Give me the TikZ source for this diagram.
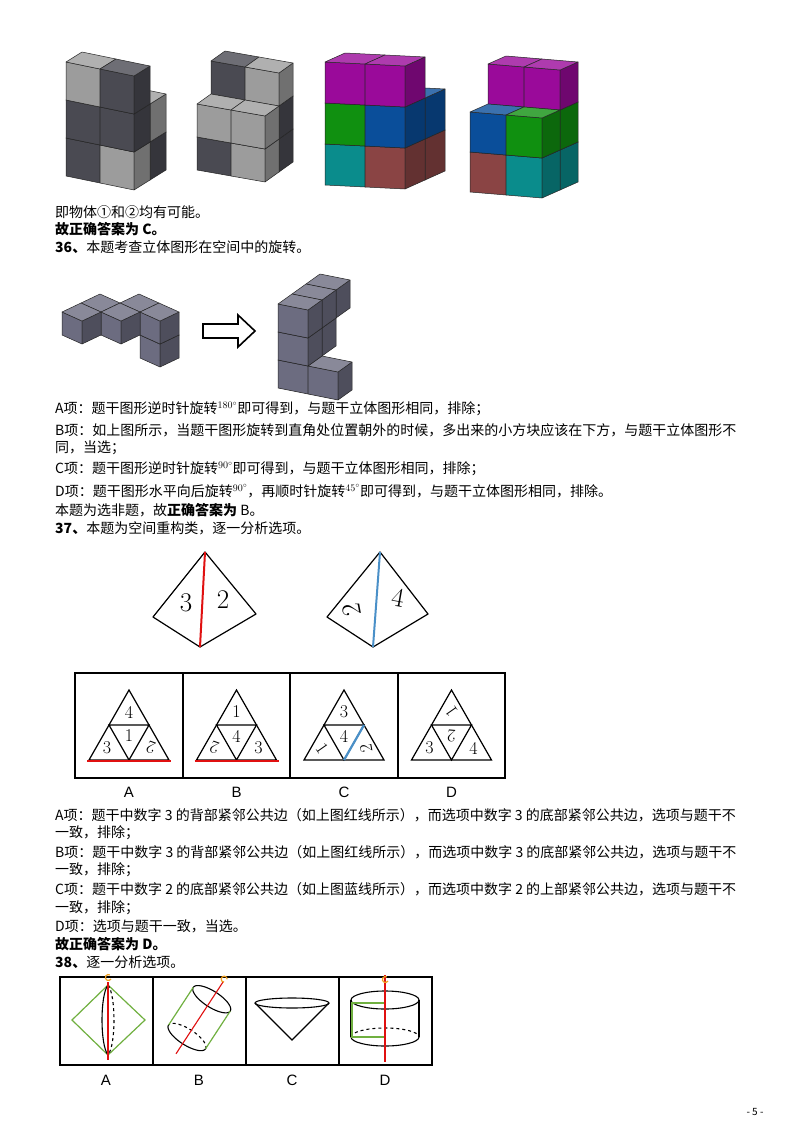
\documentclass[tikz,border=0pt]{standalone}
\usepackage{fontspec}
\newfontfamily\cjk{Noto Sans CJK SC}
\newfontfamily\sansl{Liberation Sans}
\newcommand\mycube[4]{%
\filldraw[fill=#4,cubeedge] (#1,#2,#3)--({#1+1},#2,#3)--({#1+1},#2,{#3+1})--(#1,#2,{#3+1})--cycle;
\filldraw[fill=#4!72!black,cubeedge] ({#1+1},#2,#3)--({#1+1},{#2+1},#3)--({#1+1},{#2+1},{#3+1})--({#1+1},#2,{#3+1})--cycle;
\filldraw[fill=#4!80!white,cubeedge] (#1,#2,{#3+1})--({#1+1},#2,{#3+1})--({#1+1},{#2+1},{#3+1})--(#1,{#2+1},{#3+1})--cycle;}
\newcommand\sdeg[1]{\raisebox{5pt}{\normalfont\fontsize{10}{10}\selectfont #1$^\circ$}}
\newcommand\opttri[1]{%
\draw[line width=1.2pt] (#1,690)--(#1-40,760)--(#1+40,760)--cycle;
\draw[line width=1.2pt] (#1-20,725)--(#1+20,725)--(#1,760)--cycle;}
\definecolor{dkg}{HTML}{4A4A52}
\definecolor{ltg}{HTML}{9C9C9C}
\definecolor{lgr}{HTML}{6C6C80}
\definecolor{mag}{HTML}{9A0A9A}
\definecolor{grn}{HTML}{109010}
\definecolor{blu}{HTML}{0A4E9A}
\definecolor{tea}{HTML}{0A8C8C}
\definecolor{brn}{HTML}{8A4444}
\definecolor{redl}{HTML}{E01010}
\definecolor{blul}{HTML}{4A90C8}
\definecolor{grl}{HTML}{70B040}
\definecolor{orl}{HTML}{F0A020}
\begin{document}
\begin{tikzpicture}[x=1pt,y=-1pt,
 cubeedge/.style={draw=black!85,line width=0.5pt,line join=round},
 txt/.style={anchor=west,inner sep=0pt,font=\cjk\fontsize{14}{16}\selectfont},
 num/.style={inner sep=0pt,font=\fontsize{18}{18}\selectfont},
 big/.style={inner sep=0pt,font=\fontsize{27}{27}\selectfont},
 lab/.style={inner sep=0pt,font=\sansl\fontsize{15}{15}\selectfont},
 frame/.style={line width=1.3pt}]
\useasboundingbox (0,0) rectangle (800,1132);
\fill[white] (0,0) rectangle (800,1132);
% group 1
\begin{scope}[shift={(66,176)},x={(34pt,-7pt)},y={(16pt,10pt)},z={(0pt,38pt)}]
\mycube{1}{1}{0}{dkg}\mycube{1}{1}{1}{ltg}
\mycube{0}{0}{0}{dkg}\mycube{1}{0}{0}{ltg}
\mycube{0}{0}{1}{dkg}\mycube{1}{0}{1}{dkg}
\mycube{0}{0}{2}{ltg}\mycube{1}{0}{2}{dkg}
\end{scope}
% group 2
\begin{scope}[shift={(197,170)},x={(34pt,-6pt)},y={(14pt,10pt)},z={(0pt,33pt)}]
\mycube{0}{1}{0}{dkg}\mycube{1}{1}{0}{dkg}
\mycube{0}{1}{1}{dkg}\mycube{1}{1}{1}{dkg}
\mycube{0}{1}{2}{dkg}\mycube{1}{1}{2}{ltg}
\mycube{0}{0}{0}{dkg}\mycube{1}{0}{0}{ltg}
\mycube{0}{0}{1}{ltg}\mycube{1}{0}{1}{ltg}
\end{scope}
% group 3
\begin{scope}[shift={(325,185)},x={(40pt,-2pt)},y={(20pt,9pt)},z={(0pt,41pt)}]
\mycube{1}{1}{0}{brn}\mycube{1}{1}{1}{blu}
\mycube{0}{0}{0}{tea}\mycube{1}{0}{0}{brn}
\mycube{0}{0}{1}{grn}\mycube{1}{0}{1}{blu}
\mycube{0}{0}{2}{mag}\mycube{1}{0}{2}{mag}
\end{scope}
% group 4
\begin{scope}[shift={(470,192)},x={(36pt,-3pt)},y={(18pt,8pt)},z={(0pt,40pt)}]
\mycube{0}{1}{0}{brn}\mycube{1}{1}{0}{tea}
\mycube{0}{1}{1}{blu}\mycube{1}{1}{1}{grn}
\mycube{0}{1}{2}{mag}\mycube{1}{1}{2}{mag}
\mycube{0}{0}{0}{brn}\mycube{1}{0}{0}{tea}
\mycube{0}{0}{1}{blu}\mycube{1}{0}{1}{grn}
\end{scope}
\node[txt] (t1) at (55,212) {即物体①和②均有可能。};
\node[txt] (t2) at (55,229) {\bfseries 故正确答案为 C。};
\node[txt] (t3) at (55,247) {\bfseries 36、\mdseries 本题考查立体图形在空间中的旋转。};
% L shape
\begin{scope}[shift={(62,358)},x={(20pt,-9pt)},y={(19pt,9pt)},z={(0pt,23pt)}]
\mycube{1}{2}{1}{lgr}\mycube{2}{2}{0}{lgr}\mycube{2}{2}{1}{lgr}
\mycube{0}{1}{1}{lgr}\mycube{1}{1}{1}{lgr}
\mycube{0}{0}{1}{lgr}
\end{scope}
\draw[line width=1.6pt,line join=miter] (203,324)--(238,324)--(238,315)--(255,331)--(238,347)--(238,338)--(203,338)--cycle;
% tower
\begin{scope}[shift={(278,388)},x={(30pt,-6pt)},y={(14pt,10pt)},z={(0pt,28pt)}]
\mycube{0}{2}{2}{lgr}
\mycube{0}{1}{1}{lgr}\mycube{0}{1}{2}{lgr}
\mycube{0}{0}{0}{lgr}\mycube{1}{0}{0}{lgr}\mycube{0}{0}{1}{lgr}\mycube{0}{0}{2}{lgr}
\end{scope}
\node[txt] (t4) at (55,409) {A项：题干图形逆时针旋转\sdeg{180}即可得到，与题干立体图形相同，排除；};
\node[txt] (t5) at (55,430) {B项：如上图所示，当题干图形旋转到直角处位置朝外的时候，多出来的小方块应该在下方，与题干立体图形不};
\node[txt] (t6) at (55,448) {同，当选；};
\node[txt] (t7) at (55,469) {C项：题干图形逆时针旋转\sdeg{90}即可得到，与题干立体图形相同，排除；};
\node[txt] (t8) at (55,491) {D项：题干图形水平向后旋转\sdeg{90}，再顺时针旋转\sdeg{45}即可得到，与题干立体图形相同，排除。};
\node[txt] (t9) at (55,510) {本题为选非题，故{\bfseries 正确答案为} B。};
\node[txt] (t10) at (55,528) {\bfseries 37、\mdseries 本题为空间重构类，逐一分析选项。};
% pyramids
\draw[line width=1.2pt,line join=round] (205,552)--(153,617)--(200,647)--(256,614)--cycle;
\draw[redl,line width=2pt] (205,552)--(200,647);
\node[big] (p1) at (186,603) {3};
\node[big] (p2) at (223,600) {2};
\draw[line width=1.2pt,line join=round] (380,552)--(327,617)--(373,647)--(428,614)--cycle;
\draw[blul,line width=2pt] (380,552)--(373,647);
\node[big,rotate=100] (p3) at (352,610) {2};
\node[big,rotate=-10] (p4) at (398,598) {4};
% options 37
\draw[frame] (75,673) rectangle (505,778);
\draw[frame] (183,673)--(183,778) (290,673)--(290,778) (398,673)--(398,778);
\opttri{129}\opttri{236.5}\opttri{344}\opttri{451.5}
\draw[redl,line width=2.5pt] (87,761)--(171,761);
\draw[redl,line width=2.5pt] (194.5,761)--(278.5,761);
\draw[blul,line width=2.2pt] (344,760)--(364,725);
\node[num] (a1) at (129,712) {4};\node[num] (a2) at (107,748) {3};\node[num] (a3) at (129,736) {1};\node[num,rotate=160] (a4) at (151,748) {2};
\node[num] (b1) at (236.5,712) {1};\node[num,rotate=160] (b2) at (214.5,748) {2};\node[num] (b3) at (236.5,736) {4};\node[num] (b4) at (258.5,748) {3};
\node[num] (c1) at (344,712) {3};\node[num,rotate=-55] (c2) at (322,748) {1};\node[num] (c3) at (344,736) {4};\node[num,rotate=100] (c4) at (366,748) {2};
\node[num,rotate=125] (d1) at (451.5,712) {1};\node[num] (d2) at (429.5,748) {3};\node[num,rotate=175] (d3) at (451.5,736) {2};\node[num] (d4) at (473.5,748) {4};
\node[lab] (la) at (129,792) {A};\node[lab] (lb) at (236.5,792) {B};\node[lab] (lc) at (344,792) {C};\node[lab] (ld) at (451.5,792) {D};
\node[txt] (u1) at (55,815) {A项：题干中数字 3 的背部紧邻公共边（如上图红线所示），而选项中数字 3 的底部紧邻公共边，选项与题干不};
\node[txt] (u2) at (55,833) {一致，排除；};
\node[txt] (u3) at (55,852) {B项：题干中数字 3 的背部紧邻公共边（如上图红线所示），而选项中数字 3 的底部紧邻公共边，选项与题干不};
\node[txt] (u4) at (55,870) {一致，排除；};
\node[txt] (u5) at (55,889) {C项：题干中数字 2 的底部紧邻公共边（如上图蓝线所示），而选项中数字 2 的上部紧邻公共边，选项与题干不};
\node[txt] (u6) at (55,908) {一致，排除；};
\node[txt] (u7) at (55,926) {D项：选项与题干一致，当选。};
\node[txt] (u8) at (55,944) {\bfseries 故正确答案为 D。};
\node[txt] (u9) at (55,962) {\bfseries 38、\mdseries 逐一分析选项。};
% options 38
\draw[frame] (60,977) rectangle (432,1065);
\draw[frame] (153,977)--(153,1065) (246,977)--(246,1065) (339,977)--(339,1065);
% A
\draw[grl,line width=1.2pt] (108,985)--(72,1020)--(108,1055)--(145,1020)--cycle;
\draw[line width=1.1pt,dashed] (108,985) .. controls (116,995) and (116,1045) .. (108,1055);
\draw[line width=1.1pt] (108,985) .. controls (100,995) and (100,1045) .. (108,1055);
\draw[redl,line width=1.1pt] (108,982)--(108,1060);
\draw[orl,line width=1.2pt] (111,979) arc[start angle=30,end angle=300,radius=3];
% B
\begin{scope}[shift={(187,1037)},x={(0.84pt,-0.54pt)},y={(0.55pt,0.84pt)}]
\draw[line width=1.1pt] plot[domain=0:360,samples=60] ({22*cos(\x)},{45+8*sin(\x)});
\draw[line width=1.1pt] plot[domain=180:360,samples=40] ({22*cos(\x)},{8*sin(\x)});
\draw[line width=1.1pt,dashed] plot[domain=0:180,samples=40] ({22*cos(\x)},{8*sin(\x)});
\draw[grl,line width=1.2pt] (-22,0)--(-22,45) (22,0)--(22,45);
\draw[redl,line width=1.1pt] (0,-20)--(0,66);
\draw[orl,line width=1.2pt] (2,70) arc[start angle=30,end angle=300,radius=3];
\end{scope}
% C
\draw[line width=1.1pt] (292,1003) ellipse[x radius=37,y radius=5];
\draw[line width=1.1pt] (255,1003)--(292,1040)--(329,1003);
% D
\draw[line width=1.1pt] (385,1000) ellipse[x radius=34,y radius=9];
\draw[line width=1.1pt] (351,1037) arc[start angle=180,end angle=360,x radius=34,y radius=-9];
\draw[line width=1.1pt,dashed] (351,1037) arc[start angle=180,end angle=0,x radius=34,y radius=-9];
\draw[line width=1.1pt] (351,1000)--(351,1037) (419,1000)--(419,1037);
\draw[grl,line width=1.2pt] (385,1003)--(352,1003)--(352,1037)--(385,1037);
\draw[redl,line width=1.1pt] (385,975)--(385,1062);
\draw[orl,line width=1.2pt] (388,981) arc[start angle=30,end angle=300,radius=3];
\node[lab] (ma) at (106,1080) {A};\node[lab] (mb) at (199,1080) {B};\node[lab] (mc) at (292,1080) {C};\node[lab] (md) at (385,1080) {D};
\node[inner sep=0pt,font=\cjk\fontsize{10}{10}\selectfont] (pg) at (755,1112) {- 5 -};
\end{tikzpicture}
\end{document}
